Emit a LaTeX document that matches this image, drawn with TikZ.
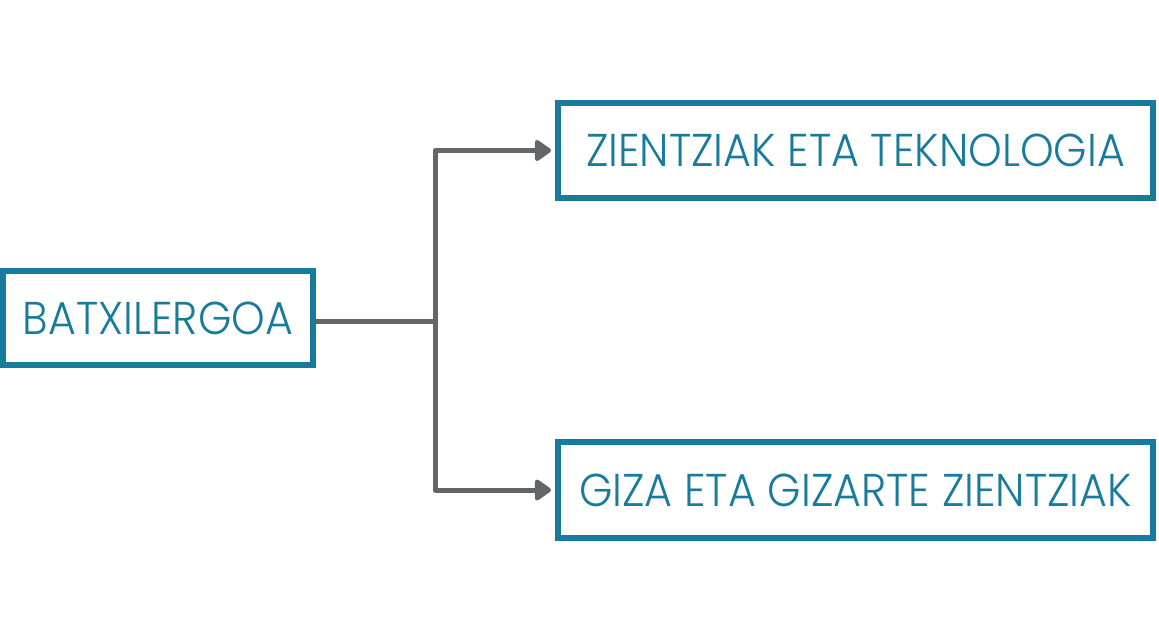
\documentclass[tikz,border=0pt]{standalone}
\usepackage{fontspec}
\setmainfont{Poppins Light}[FakeStretch=0.93]
\usetikzlibrary{arrows.meta}
\definecolor{boxteal}{RGB}{24,123,155}
\definecolor{linegray}{RGB}{100,101,105}

\begin{document}
\begin{tikzpicture}[x=0.5pt,y=-0.5pt,
	box/.style={draw=boxteal, line width=3pt, text=boxteal, inner sep=0pt,
		font=\fontsize{23}{28}\selectfont},
	conn/.style={draw=linegray, line width=2.5pt, line join=round}]
	\useasboundingbox (0,0) rectangle (1159,626);
	\node[box, minimum width=155pt, minimum height=47pt] (batx) at (158,318) {BATXILERGOA};
	\node[box, minimum width=297.5pt, minimum height=47.5pt] (zient) at (855.5,150.5) {ZIENTZIAK ETA TEKNOLOGIA};
	\node[box, minimum width=297.5pt, minimum height=48pt] (giza) at (855.5,490) {GIZA ETA GIZARTE ZIENTZIAK};
	% branch point
	\coordinate (fork) at (435,321);
	\draw[conn] (batx.east |- fork) -- (fork);
	\draw[conn, -{Triangle[length=9pt,width=12pt,round]}, shorten >=2pt] (fork) |- (zient.west);
	\draw[conn, -{Triangle[length=9pt,width=12pt,round]}, shorten >=2pt] (fork) |- (giza.west);
\end{tikzpicture}
\end{document}
